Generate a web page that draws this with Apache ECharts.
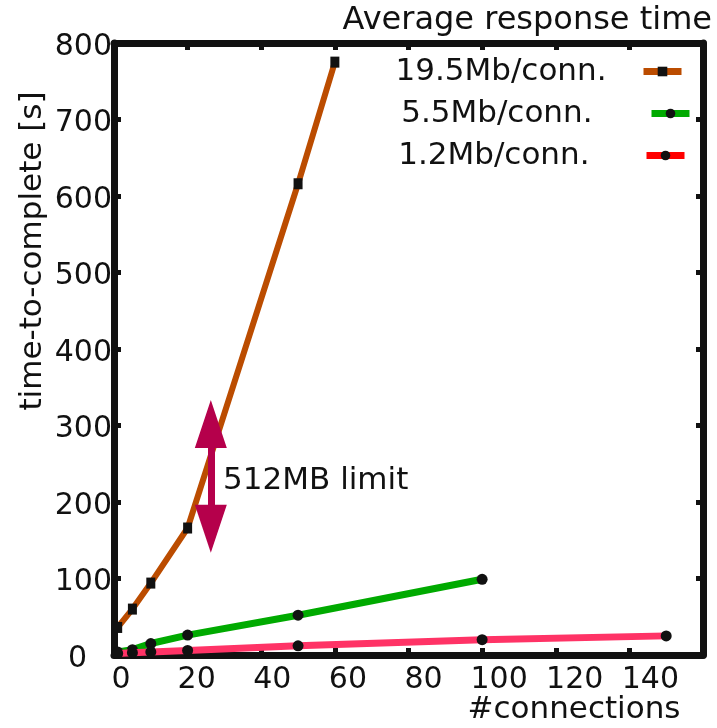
<!DOCTYPE html>
<html>
<head>
<meta charset="utf-8">
<script src="https://cdn.jsdelivr.net/npm/echarts@6/dist/echarts.min.js"></script>
<style>
  html, body { margin: 0; padding: 0; background: #fff; }
  #chart { width: 717px; height: 728px; }
</style>
</head>
<body>
<div id="chart"></div>
<script>
// values
var seriesNames = ['19.5Mb/conn.', '5.5Mb/conn.', '1.2Mb/conn.'];
var xOrange = [1, 5, 10, 20, 50, 60];
var yOrange = [36, 60, 94, 166, 616, 775];
var xGreen = [1, 5, 10, 20, 50, 100];
var yGreen = [4, 7, 15, 26, 52, 99];
var xRed = [1, 5, 10, 20, 50, 100, 150];
var yRed = [2, 3, 4, 6, 12, 20, 25];
var xTicks = [0, 20, 40, 60, 80, 100, 120, 140, 160];
var yTicks = [0, 100, 200, 300, 400, 500, 600, 700, 800];
var limitArrow = [26.3, 165, 302]; // x, lower head, upper head
var limitLabel = '512MB limit';

var FONT = 'DejaVu Sans';
var INK = '#111';

function pairs(xs, ys) {
	var out = [];
	for (var i = 0; i < xs.length; i++) {
		out.push([xs[i], ys[i]]);
	}
	return out;
}

// gnuplot output has the x labels drifting right of their ticks
var xRich = {};
for (var i = 0; i < xTicks.length; i++) {
	xRich['t' + xTicks[i]] = {
		fontFamily: FONT, fontSize: 30, color: INK,
		padding: [0, 0, 0, 2 * (7 + 0.1 * xTicks[i])]
	};
}

var chart = echarts.init(document.getElementById('chart'));

var axisLineStyle = { color: INK, width: 7, cap: 'round' };
var tickStyle = { show: true, inside: true, length: 7, lineStyle: { color: INK, width: 5 } };

function legendText(gap) {
	return { fontFamily: FONT, fontSize: 31, color: INK, padding: [0, gap, 0, 0] };
}

var option = {
	animation: false,
	backgroundColor: '#fff',
	grid: { left: 114, right: 14, top: 43, bottom: 73 },
	xAxis: [{
		type: 'value', min: xTicks[0], max: xTicks[xTicks.length - 1], interval: 20,
		position: 'bottom',
		axisLine: { show: true, onZero: false, lineStyle: axisLineStyle },
		axisTick: tickStyle,
		splitLine: { show: false },
		axisLabel: {
			margin: 10,
			showMaxLabel: false,
			formatter: function(v) { return '{t' + v + '|' + v + '}'; },
			rich: xRich
		}
	}, {
		type: 'value', min: xTicks[0], max: xTicks[xTicks.length - 1], interval: 20,
		position: 'top',
		axisLine: { show: true, onZero: false, lineStyle: axisLineStyle },
		axisTick: tickStyle,
		splitLine: { show: false },
		axisLabel: { show: false }
	}],
	yAxis: [{
		type: 'value', min: yTicks[0], max: yTicks[yTicks.length - 1], interval: 100,
		position: 'left',
		axisLine: { show: true, onZero: false, lineStyle: axisLineStyle },
		axisTick: tickStyle,
		splitLine: { show: false },
		axisLabel: {
			margin: 2,
			formatter: function(v) { return v === 0 ? '{z|0}' : '{n|' + v + '}'; },
			rich: {
				n: { fontFamily: FONT, fontSize: 30, color: INK, padding: [8, 0, 0, 0] },
				z: { fontFamily: FONT, fontSize: 30, color: INK, padding: [8, 25, 0, 0] }
			}
		}
	}, {
		type: 'value', min: yTicks[0], max: yTicks[yTicks.length - 1], interval: 100,
		position: 'right',
		axisLine: { show: true, onZero: false, lineStyle: axisLineStyle },
		axisTick: tickStyle,
		splitLine: { show: false },
		axisLabel: { show: false }
	}],
	legend: [{
		data: [seriesNames[0]],
		right: 32, top: 56, padding: 0, align: 'right',
		itemWidth: 38, itemHeight: 12,
		lineStyle: { width: 7 },
		textStyle: legendText(32)
	}, {
		data: [seriesNames[1]],
		right: 24, top: 98, padding: 0, align: 'right',
		itemWidth: 38, itemHeight: 12,
		lineStyle: { width: 7 },
		textStyle: legendText(54)
	}, {
		data: [{ name: seriesNames[2], lineStyle: { color: '#ff0000', width: 7 } }],
		right: 29, top: 140, padding: 0, align: 'right',
		itemWidth: 38, itemHeight: 12,
		lineStyle: { width: 7 },
		textStyle: legendText(52)
	}],
	graphic: [{
		type: 'text', right: 5, top: 5, z: 10,
		style: { text: 'Average response time', fontFamily: FONT, fontSize: 32, fill: INK }
	}, {
		type: 'text', x: 33, y: 251, rotation: Math.PI / 2,
		style: { text: 'time-to-complete [s]', fontFamily: FONT, fontSize: 31, fill: INK,
			textAlign: 'center', textVerticalAlign: 'middle' }
	}, {
		type: 'text', x: 574, y: 710,
		style: { text: '#connections', fontFamily: FONT, fontSize: 31, fill: INK,
			textAlign: 'center', textVerticalAlign: 'middle' }
	}],
	series: [{
		name: seriesNames[2], type: 'line', z: 3,
		data: pairs(xRed, yRed),
		symbol: 'circle', symbolSize: 11,
		itemStyle: { color: INK },
		lineStyle: { color: '#ff3366', width: 7 }
	}, {
		name: seriesNames[1], type: 'line', z: 2,
		data: pairs(xGreen, yGreen),
		symbol: 'circle', symbolSize: 11,
		itemStyle: { color: INK },
		lineStyle: { color: '#00aa00', width: 7 }
	}, {
		name: seriesNames[0], type: 'line', z: 4,
		data: pairs(xOrange, yOrange),
		symbol: 'rect', symbolSize: [9, 11],
		itemStyle: { color: INK },
		lineStyle: { color: '#bb4c00', width: 6 },
		markLine: {
			silent: true,
			symbol: ['triangle', 'triangle'],
			symbolSize: [32, 48],
			label: { show: false },
			itemStyle: { color: '#b5004b' },
			lineStyle: { color: '#b5004b', width: 7, type: 'solid' },
			data: [[{ coord: [limitArrow[0], limitArrow[1]] }, { coord: [limitArrow[0], limitArrow[2]] }]]
		},
		markPoint: {
			silent: true,
			symbol: 'circle', symbolSize: 1,
			itemStyle: { color: 'transparent' },
			label: {
				show: true, position: 'right', distance: 0,
				formatter: '{b}',
				fontFamily: FONT, fontSize: 31, color: INK
			},
			data: [{ name: limitLabel, coord: [29.5, 227] }]
		}
	}]
};

chart.setOption(option);
</script>
</body>
</html>
